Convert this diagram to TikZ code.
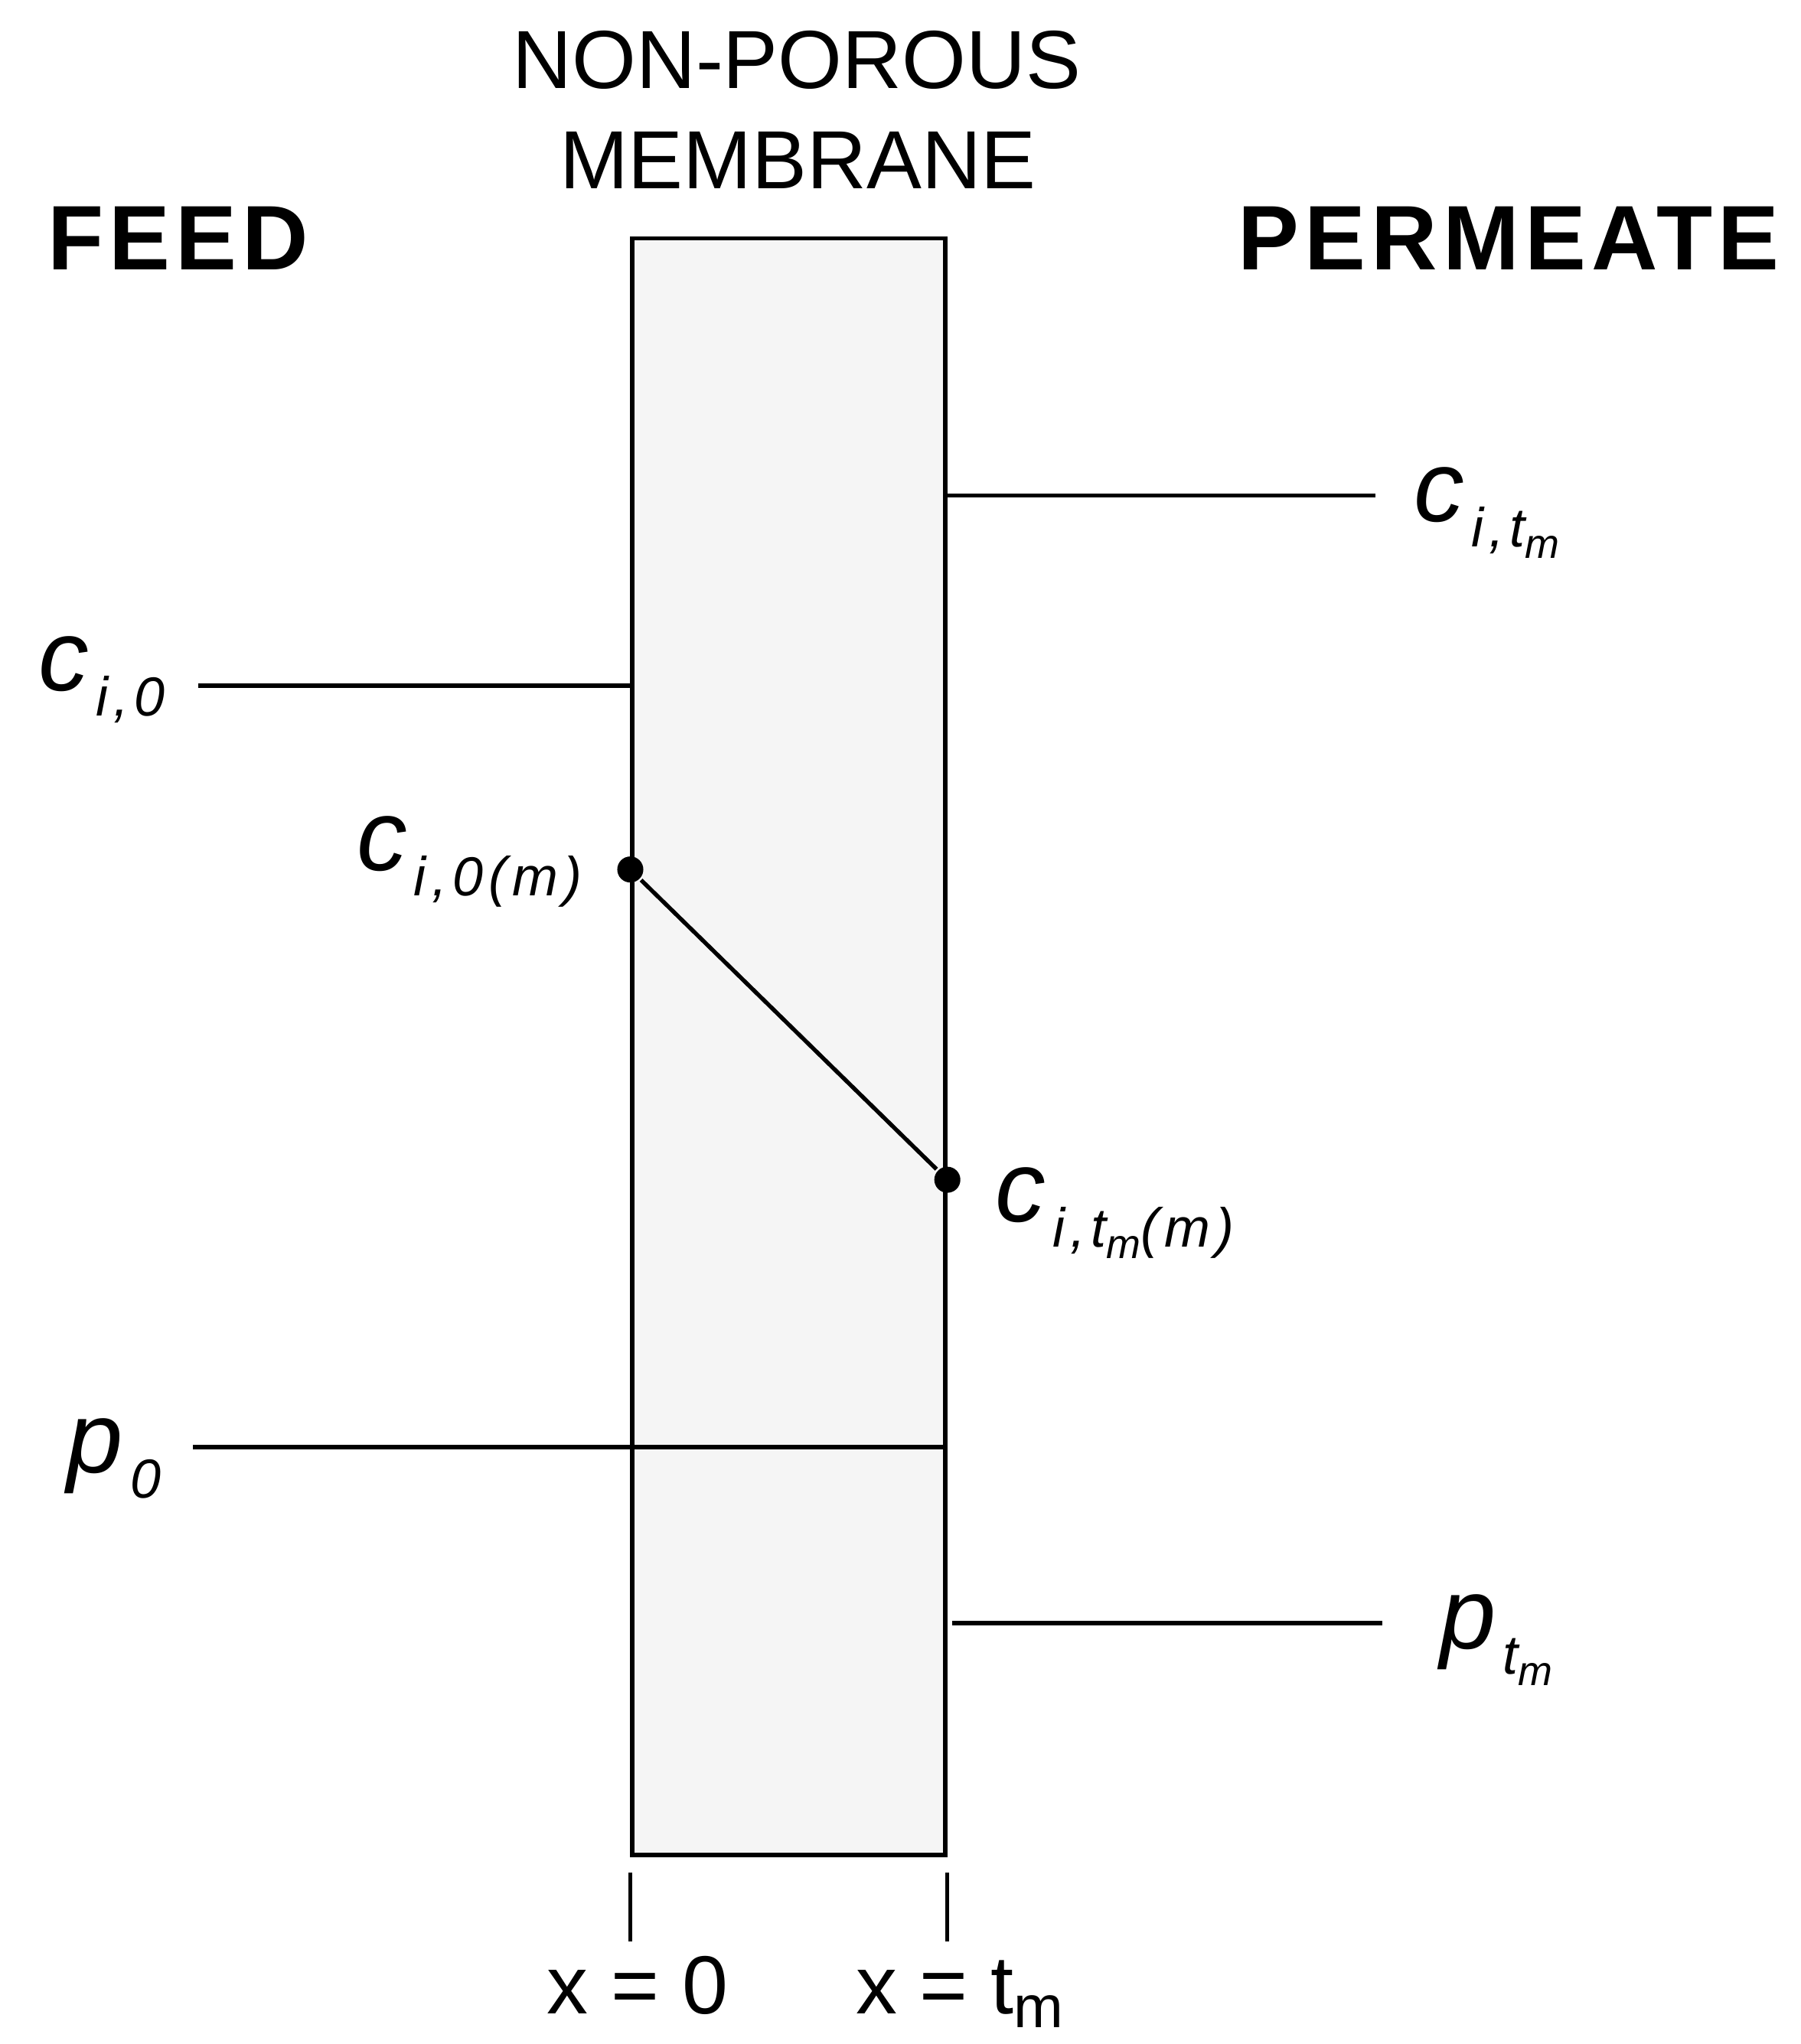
\documentclass[tikz,border=0pt]{standalone}
\usepackage{fontspec}
\setmainfont{Liberation Sans}
\newfontfamily\headfont[LetterSpace=6]{Liberation Sans}
\newfontfamily\subfont[LetterSpace=10]{Liberation Sans}
\usetikzlibrary{positioning}

\newcommand{\bigsym}{\fontsize{22}{22}\selectfont\itshape}
\newcommand{\subsym}{\subfont\fontsize{12}{12}\selectfont\itshape}
\newcommand{\subsubsym}{\subfont\fontsize{9}{9}\selectfont\itshape}
\newcommand{\conc}[2]{{\bigsym #1}\hspace{1.5pt}\raisebox{-5.5pt}{\subsym #2}}
\newcommand{\tmsub}{t\raisebox{-2.5pt}{\subsubsym m}}

\begin{document}
\begin{tikzpicture}[line width=0.9pt,
      head/.style={font={\headfont\bfseries\fontsize{20}{20}\selectfont},anchor=base west,inner sep=0pt},
      title/.style={font={\fontsize{18}{18}\selectfont},anchor=base,inner sep=0pt},
      sym/.style={anchor=base west,inner sep=0pt},
      posbox/.style={font={\fontsize{18}{18}\selectfont},anchor=base,inner sep=0pt},
      dot/.style={circle,fill=black,inner sep=0pt,minimum size=0.2cm},
      mem/.style={draw,fill=black!4,minimum width=2.40cm,minimum height=12.40cm,inner sep=0pt}]
    \useasboundingbox (0,0) rectangle (13.81,-15.68);
    \node[mem] (memb) at (6.05,-8.03) {};
    \node[title] (tnon) at (6.11,-0.68) {NON-POROUS};
    \node[title] (tmem) at (6.12,-1.45) {MEMBRANE};
    \node[head] (feed) at (0.35,-2.07) {FEED};
    \node[head] (perm) at (9.48,-2.07) {PERMEATE};
    % concentration levels
    \coordinate (ctmA) at (memb.east |- 0,-3.80);
    \coordinate (ctmB) at (10.55,-3.80);
    \node[sym] (ctm) at (10.83,-4.00) {\conc{c}{i,\tmsub}};
    \coordinate (czA) at (1.52,-5.26);
    \coordinate (czB) at (memb.west |- 0,-5.26);
    \node[sym] (cz) at (0.28,-5.30) {\conc{c}{i,0}};
    \draw (ctmA) -- (ctmB);
    \draw (czA) -- (czB);
    \node[dot] (dz) at (memb.west |- 0,-6.67) {};
    \node[dot] (dtm) at (memb.east |- 0,-9.05) {};
    \draw (dz) -- (dtm);
    \node[sym] (czm) at (2.72,-6.68) {\conc{c}{i,0(m)}};
    \node[sym] (ctmm) at (7.62,-9.37) {\conc{c}{i,\tmsub(m)}};
    % pressure levels
    \coordinate (pzA) at (1.48,-11.10);
    \coordinate (pzB) at (memb.east |- 0,-11.10);
    \draw (pzA) -- (pzB);
    \node[sym] (pz) at (0.50,-11.30) {\conc{p}{0}};
    \coordinate (ptA) at (7.30,-12.45);
    \coordinate (ptB) at (10.60,-12.45);
    \draw (ptA) -- (ptB);
    \node[sym] (pt) at (11.03,-12.65) {\conc{p}{\tmsub}};
    % faces
    \foreach \side in {west,east} {
      \draw ([yshift=-0.12cm]memb.south \side) -- ++(0,-0.53);
    }
    \node[posbox] (xz) at (4.89,-15.45) {x = 0};
    \node[posbox] (xt) at (7.36,-15.45) {x = t\raisebox{-3pt}{\fontsize{13}{13}\selectfont m}};
  \end{tikzpicture}
\end{document}
